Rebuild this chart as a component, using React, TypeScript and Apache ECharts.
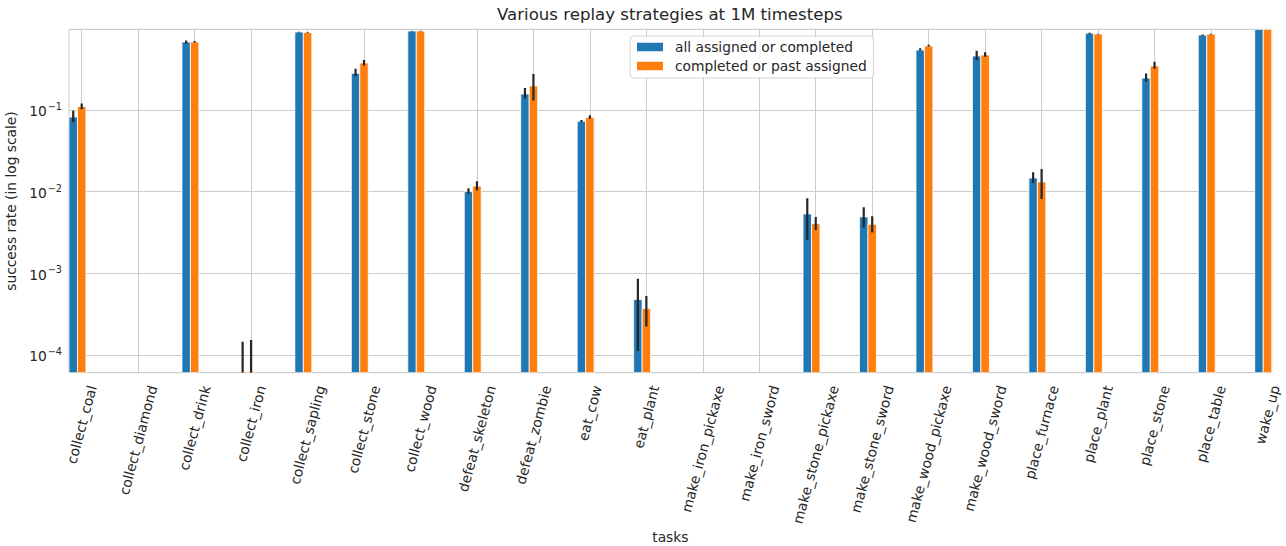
import React, { useEffect, useRef } from "react";
import * as echarts from "echarts";

const CATEGORIES = [
  "collect_coal", "collect_diamond", "collect_drink", "collect_iron", "collect_sapling",
  "collect_stone", "collect_wood", "defeat_skeleton", "defeat_zombie", "eat_cow",
  "eat_plant", "make_iron_pickaxe", "make_iron_sword", "make_stone_pickaxe", "make_stone_sword",
  "make_wood_pickaxe", "make_wood_sword", "place_furnace", "place_plant", "place_stone",
  "place_table", "wake_up",
];

const SERIES_NAMES = ["all assigned or completed", "completed or past assigned"];

// "all assigned or completed" – mean success rate and error-bar bounds
const ALL_ASSIGNED = [
  0.082, 0, 0.68, 5e-5, 0.9, 0.281, 0.927, 0.01, 0.157, 0.0727, 4.77e-4, 0, 0,
  5.33e-3, 4.9e-3, 0.542, 0.458, 0.0147, 0.869, 0.246, 0.827, 0.97,
];
const ALL_ASSIGNED_LOW = [
  0.071, 0, 0.65, 0, 0.89, 0.26, 0.92, 0.0094, 0.138, 0.0713, 1.12e-4, 0, 0,
  2.57e-3, 3.63e-3, 0.535, 0.409, 0.0128, 0.85, 0.224, 0.81, 0.97,
];
const ALL_ASSIGNED_HIGH = [
  0.098, 0, 0.71, 1.45e-4, 0.91, 0.32, 0.935, 0.011, 0.186, 0.0755, 8.6e-4, 0, 0,
  8.3e-3, 6.45e-3, 0.57, 0.532, 0.0173, 0.88, 0.28, 0.84, 0.97,
];

// "completed or past assigned"
const COMPLETED_PAST = [
  0.11, 0, 0.68, 6.3e-5, 0.89, 0.376, 0.927, 0.0117, 0.197, 0.0814, 3.7e-4, 0, 0,
  4.06e-3, 3.98e-3, 0.607, 0.471, 0.01315, 0.85, 0.346, 0.85, 0.97,
];
const COMPLETED_PAST_LOW = [
  0.102, 0, 0.67, 0, 0.88, 0.35, 0.92, 0.0103, 0.131, 0.078, 2.23e-4, 0, 0,
  3.4e-3, 3.16e-3, 0.6, 0.45, 0.00815, 0.84, 0.32, 0.84, 0.97,
];
const COMPLETED_PAST_HIGH = [
  0.12, 0, 0.7, 1.53e-4, 0.9, 0.41, 0.935, 0.0134, 0.276, 0.086, 5.28e-4, 0, 0,
  4.9e-3, 5.0e-3, 0.63, 0.51, 0.019, 0.86, 0.39, 0.86, 0.97,
];

const Y_MIN = 6.07e-5;
const Y_MAX = 0.973;
const X_MIN = -0.225;
const X_MAX = 21.075;
const BAR_W = 0.15;
const OFFSETS = [-0.15, 0];
const COLORS = ["#1f77b4", "#ff7f0e"];
const ERR_COLOR = "#262626";
const TEXT_COLOR = "#262626";
const GRID_COLOR = "#cccccc";
const FONT = "DejaVu Sans";
const TICK_FONT_SIZE = 13.8;

let measureCtx: CanvasRenderingContext2D | null = null;
function measure(text: string): number {
  if (!measureCtx) {
    const c = document.createElement("canvas");
    measureCtx = c.getContext("2d");
  }
  if (!measureCtx) return text.length * 7.5;
  measureCtx.font = `${TICK_FONT_SIZE}px "${FONT}"`;
  return measureCtx.measureText(text).width;
}

function clampY(v: number) {
  return Math.min(Math.max(v, Y_MIN), Y_MAX);
}

function barRenderer(seriesIdx: number) {
  const offset = OFFSETS[seriesIdx];
  const color = COLORS[seriesIdx];
  return (_params: any, api: any) => {
    const i = api.value(0) as number;
    const v = api.value(1) as number;
    const lo = api.value(2) as number;
    const hi = api.value(3) as number;
    const cx = i + offset;
    const left = api.coord([cx - BAR_W / 2, Y_MIN]);
    const right = api.coord([cx + BAR_W / 2, Y_MIN]);
    const children: any[] = [];
    if (v > 0) {
      const top = api.coord([cx, clampY(v)]);
      const h = left[1] - top[1];
      if (h > 0) {
        children.push({
          type: "rect",
          shape: { x: left[0], y: top[1], width: right[0] - left[0], height: h },
          style: { fill: color, stroke: "#ffffff", lineWidth: 0.8 },
        });
      }
    }
    if (hi > 0) {
      const a = api.coord([cx, clampY(lo > 0 ? lo : Y_MIN)]);
      const b = api.coord([cx, clampY(hi)]);
      children.push({
        type: "line",
        shape: { x1: a[0], y1: a[1], x2: b[0], y2: b[1] },
        style: { stroke: ERR_COLOR, lineWidth: 2.2 },
      });
    }
    return { type: "group", children };
  };
}

const COS75 = Math.cos((75 * Math.PI) / 180);

function labelRenderer(_params: any, api: any) {
  const i = api.value(0) as number;
  const name = CATEGORIES[i];
  const p = api.coord([i, Y_MIN]);
  const L = measure(name);
  const h = 12;
  const x = p[0] + (COS75 * L) / 2;
  const y = p[1] + 11.5 + (COS75 * h) / 2;
  return {
    type: "text",
    x,
    y,
    rotation: (75 * Math.PI) / 180,
    style: {
      text: name,
      x: 0,
      y: 0,
      align: "right",
      verticalAlign: "middle",
      fontSize: TICK_FONT_SIZE,
      fontFamily: FONT,
      fill: TEXT_COLOR,
    },
  };
}

function seriesData(mean: number[], low: number[], high: number[]) {
  return mean.map((m, i) => [i, m > 0 ? m : null, low[i], high[i]]);
}

export default function App() {
  const ref = useRef<HTMLDivElement>(null);

  useEffect(() => {
    document.body.style.margin = "0";
    if (!ref.current) return;
    const chart = echarts.init(ref.current, null, { renderer: "svg" });
    const xTicks = CATEGORIES.map((_, i) => i);

    chart.setOption({
      animation: false,
      backgroundColor: "#ffffff",
      title: {
        text: "Various replay strategies at 1M timesteps",
        left: 497,
        top: 6,
        padding: 0,
        textStyle: { fontSize: 16.6, fontWeight: "normal", color: TEXT_COLOR, fontFamily: FONT },
      },
      legend: {
        data: SERIES_NAMES.map((n, k) => ({ name: n, itemStyle: { color: COLORS[k] } })),
        orient: "vertical",
        left: 630,
        top: 36,
        icon: "rect",
        itemWidth: 26,
        itemHeight: 8.5,
        itemGap: 5,
        padding: [4, 7, 5, 7],
        borderColor: "#d4d4d4",
        borderWidth: 1,
        borderRadius: 4,
        backgroundColor: "rgba(255,255,255,0.85)",
        textStyle: { fontSize: 13.8, color: TEXT_COLOR, fontFamily: FONT, padding: [0, 0, 0, 7] },
      },
      grid: {
        left: 69,
        right: 14.3,
        top: 29.3,
        bottom: 173.3,
        containLabel: false,
        outerBoundsMode: "none",
        show: true,
        borderColor: GRID_COLOR,
        borderWidth: 1,
        backgroundColor: "transparent",
      },
      xAxis: {
        type: "value",
        min: X_MIN,
        max: X_MAX,
        name: "tasks",
        nameLocation: "middle",
        nameGap: 157.5,
        nameTextStyle: { fontSize: 13.8, color: TEXT_COLOR, fontFamily: FONT },
        axisLine: { show: false },
        axisTick: { show: false, customValues: xTicks },
        axisLabel: { show: false, customValues: xTicks },
        splitLine: { show: true, lineStyle: { color: GRID_COLOR, width: 1 } },
      },
      yAxis: {
        type: "log",
        logBase: 10,
        min: Y_MIN,
        max: Y_MAX,
        name: "success rate (in log scale)",
        nameLocation: "middle",
        nameGap: 48,
        nameTextStyle: { fontSize: 13.8, color: TEXT_COLOR, fontFamily: FONT },
        axisLine: { show: false },
        axisTick: { show: false },
        axisLabel: {
          color: TEXT_COLOR,
          fontFamily: FONT,
          margin: 7,
          showMinLabel: false,
          showMaxLabel: false,
          formatter: (v: number) => {
            const e = Math.log10(v);
            const r = Math.round(e);
            if (Math.abs(e - r) > 1e-6) return "";
            return "{b|10}{s|" + (r < 0 ? "\u2212" : "") + Math.abs(r) + "}";
          },
          rich: {
            b: { fontSize: TICK_FONT_SIZE, lineHeight: 17, fontFamily: FONT, color: TEXT_COLOR, verticalAlign: "bottom" },
            s: { fontSize: 9.7, lineHeight: 9, fontFamily: FONT, color: TEXT_COLOR, verticalAlign: "top", padding: [0, 0, 0, 1] },
          },
        },
        splitLine: { show: true, lineStyle: { color: GRID_COLOR, width: 1 } },
      },
      series: [
        {
          type: "custom",
          name: SERIES_NAMES[0],
          itemStyle: { color: COLORS[0] },
          renderItem: barRenderer(0),
          encode: { x: 0, y: 1 },
          clip: true,
          data: seriesData(ALL_ASSIGNED, ALL_ASSIGNED_LOW, ALL_ASSIGNED_HIGH),
        },
        {
          type: "custom",
          name: SERIES_NAMES[1],
          itemStyle: { color: COLORS[1] },
          renderItem: barRenderer(1),
          encode: { x: 0, y: 1 },
          clip: true,
          data: seriesData(COMPLETED_PAST, COMPLETED_PAST_LOW, COMPLETED_PAST_HIGH),
        },
        {
          type: "custom",
          name: "xlabels",
          silent: true,
          clip: false,
          renderItem: labelRenderer,
          encode: { x: 0, y: 1 },
          data: CATEGORIES.map((_, i) => [i, Y_MIN]),
        },
      ],
    });

    return () => chart.dispose();
  }, []);

  return (
    <div
      ref={ref}
      style={{ width: 1286, height: 546, position: "absolute", left: 0, top: 0 }}
    />
  );
}
